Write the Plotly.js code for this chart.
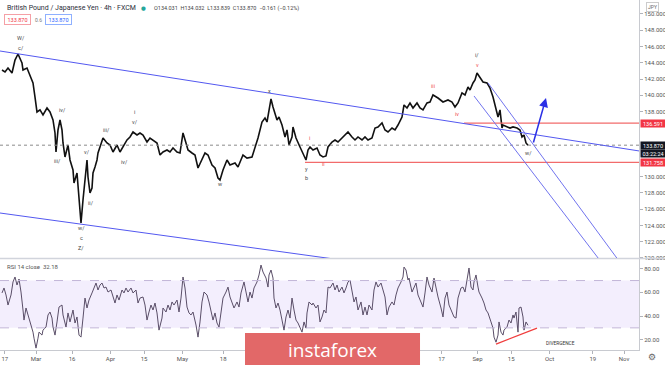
<!DOCTYPE html>
<html><head><meta charset="utf-8">
<script src="https://cdn.plot.ly/plotly-3.0.1.min.js"></script>
<style>html,body{margin:0;padding:0;background:#fff;}#chart{width:665px;height:365px;}</style>
</head><body><div id="chart"></div>
<script>
// ---------- data ----------
const priceDates = ["2020-02-15 20:00","2020-02-17 02:00","2020-02-18 08:00","2020-02-20 00:00","2020-02-21 06:00","2020-02-22 12:00","2020-02-24 04:00","2020-02-24 14:00","2020-02-26 06:00","2020-02-27 12:00","2020-02-28 18:00","2020-02-29 14:00","2020-03-01 10:00","2020-03-02 16:00","2020-03-03 22:00","2020-03-05 14:00","2020-03-06 20:00","2020-03-08 02:00","2020-03-08 22:00","2020-03-09 08:00","2020-03-10 04:00","2020-03-11 00:00","2020-03-11 20:00","2020-03-12 06:00","2020-03-13 02:00","2020-03-14 08:00","2020-03-15 04:00","2020-03-16 10:00","2020-03-16 20:00","2020-03-18 02:00","2020-03-18 12:00","2020-03-19 08:00","2020-03-19 18:00","2020-03-20 14:00","2020-03-21 10:00","2020-03-22 06:00","2020-03-22 16:00","2020-03-23 12:00","2020-03-24 08:00","2020-03-24 18:00","2020-03-25 14:00","2020-03-26 10:00","2020-03-26 20:00","2020-03-27 16:00","2020-03-28 22:00","2020-03-30 14:00","2020-03-31 20:00","2020-04-02 02:00","2020-04-03 18:00","2020-04-05 00:00","2020-04-06 06:00","2020-04-07 22:00","2020-04-09 04:00","2020-04-10 10:00","2020-04-12 02:00","2020-04-13 08:00","2020-04-14 14:00","2020-04-16 06:00","2020-04-17 12:00","2020-04-18 18:00","2020-04-20 10:00","2020-04-21 16:00","2020-04-22 22:00","2020-04-24 14:00","2020-04-25 20:00","2020-04-27 02:00","2020-04-28 18:00","2020-04-30 00:00","2020-05-01 06:00","2020-05-02 12:00","2020-05-03 08:00","2020-05-05 00:00","2020-05-06 06:00","2020-05-07 12:00","2020-05-09 04:00","2020-05-10 10:00","2020-05-11 16:00","2020-05-13 08:00","2020-05-14 14:00","2020-05-15 20:00","2020-05-16 16:00","2020-05-17 22:00","2020-05-19 14:00","2020-05-20 20:00","2020-05-22 22:00","2020-05-24 04:00","2020-05-26 06:00","2020-05-27 22:00","2020-05-30 00:00","2020-05-31 06:00","2020-06-01 12:00","2020-06-03 04:00","2020-06-04 10:00","2020-06-05 06:00","2020-06-06 02:00","2020-06-06 22:00","2020-06-07 18:00","2020-06-09 10:00","2020-06-10 06:00","2020-06-11 12:00","2020-06-12 18:00","2020-06-13 14:00","2020-06-14 10:00","2020-06-15 16:00","2020-06-16 02:00","2020-06-17 08:00","2020-06-19 00:00","2020-06-20 06:00","2020-06-21 12:00","2020-06-22 08:00","2020-06-23 04:00","2020-06-24 10:00","2020-06-26 02:00","2020-06-27 08:00","2020-06-28 14:00","2020-06-29 20:00","2020-06-30 16:00","2020-07-02 08:00","2020-07-03 14:00","2020-07-04 20:00","2020-07-06 12:00","2020-07-07 18:00","2020-07-09 00:00","2020-07-10 16:00","2020-07-11 22:00","2020-07-13 04:00","2020-07-14 20:00","2020-07-16 02:00","2020-07-17 08:00","2020-07-19 00:00","2020-07-20 06:00","2020-07-21 12:00","2020-07-23 04:00","2020-07-24 10:00","2020-07-25 16:00","2020-07-27 08:00","2020-07-28 14:00","2020-07-29 20:00","2020-07-31 12:00","2020-08-01 08:00","2020-08-02 14:00","2020-08-03 20:00","2020-08-05 02:00","2020-08-06 18:00","2020-08-08 00:00","2020-08-09 06:00","2020-08-10 22:00","2020-08-12 04:00","2020-08-13 10:00","2020-08-15 12:00","2020-08-17 14:00","2020-08-19 16:00","2020-08-21 08:00","2020-08-22 14:00","2020-08-23 20:00","2020-08-25 12:00","2020-08-26 18:00","2020-08-28 00:00","2020-08-28 20:00","2020-08-30 02:00","2020-08-30 22:00","2020-08-31 18:00","2020-09-02 00:00","2020-09-03 06:00","2020-09-04 22:00","2020-09-06 04:00","2020-09-07 10:00","2020-09-08 16:00","2020-09-09 12:00","2020-09-10 08:00","2020-09-11 04:00","2020-09-11 14:00","2020-09-13 06:00","2020-09-14 12:00","2020-09-15 18:00","2020-09-17 10:00","2020-09-18 16:00","2020-09-19 12:00","2020-09-20 08:00","2020-09-21 04:00","2020-09-22 00:00"];
const priceClose = [143.11,142.87,143.36,142.75,144.34,145.08,143.97,143.11,143.36,142.50,141.52,139.79,137.95,138.20,137.58,138.44,137.95,136.97,135.37,133.03,135.74,136.97,135.74,134.14,132.42,133.89,132.05,130.82,129.22,130.45,128.73,125.65,124.30,127.13,129.59,132.05,129.96,127.99,128.60,130.45,131.19,132.05,132.91,133.65,134.75,134.14,133.89,133.03,133.89,133.03,133.65,134.51,134.88,135.49,135.12,135.37,135.12,134.26,134.75,134.51,134.14,132.66,133.03,133.28,133.03,133.52,133.03,132.91,135.37,134.14,133.28,132.91,132.66,131.06,132.05,132.91,132.66,131.43,131.06,129.83,129.59,130.82,132.05,131.43,131.68,131.19,132.66,132.29,132.42,133.52,134.75,136.72,137.21,136.72,138.44,139.55,138.56,136.97,137.33,136.35,134.88,135.74,133.89,134.88,136.11,134.75,133.65,132.91,132.05,133.28,133.65,133.28,133.52,132.66,132.42,132.54,133.65,134.26,134.51,134.26,134.75,135.12,135.49,134.88,134.51,134.88,134.51,134.88,134.51,134.75,135.98,136.11,136.60,135.74,135.49,135.98,135.74,136.35,137.33,138.81,138.44,139.06,138.44,139.06,138.44,138.20,139.06,139.18,140.04,139.67,139.18,139.43,139.18,138.56,139.06,140.29,140.04,141.02,140.66,141.52,141.88,142.75,142.13,141.64,141.52,140.90,139.79,138.20,137.33,138.20,135.98,136.35,136.11,135.98,136.11,135.98,135.74,134.88,135.12,134.14,133.87];

const rsiDates = ["2020-02-15 20:00","2020-02-16 16:00","2020-02-17 12:00","2020-02-18 08:00","2020-02-19 14:00","2020-02-20 10:00","2020-02-21 06:00","2020-02-22 02:00","2020-02-22 22:00","2020-02-23 18:00","2020-02-24 14:00","2020-02-25 00:00","2020-02-25 20:00","2020-02-26 16:00","2020-02-27 22:00","2020-02-28 18:00","2020-02-29 04:00","2020-03-01 00:00","2020-03-01 20:00","2020-03-02 06:00","2020-03-03 12:00","2020-03-03 22:00","2020-03-05 04:00","2020-03-06 00:00","2020-03-06 20:00","2020-03-07 16:00","2020-03-08 02:00","2020-03-08 22:00","2020-03-09 18:00","2020-03-10 14:00","2020-03-11 20:00","2020-03-12 06:00","2020-03-13 12:00","2020-03-14 08:00","2020-03-15 04:00","2020-03-16 10:00","2020-03-17 06:00","2020-03-18 02:00","2020-03-18 22:00","2020-03-19 18:00","2020-03-20 14:00","2020-03-21 00:00","2020-03-21 10:00","2020-03-22 06:00","2020-03-23 02:00","2020-03-24 08:00","2020-03-25 04:00","2020-03-26 00:00","2020-03-26 20:00","2020-03-27 16:00","2020-03-28 12:00","2020-03-29 08:00","2020-03-30 04:00","2020-03-31 00:00","2020-04-01 06:00","2020-04-02 02:00","2020-04-02 22:00","2020-04-03 18:00","2020-04-04 14:00","2020-04-05 20:00","2020-04-06 16:00","2020-04-07 12:00","2020-04-08 08:00","2020-04-09 14:00","2020-04-10 10:00","2020-04-11 16:00","2020-04-12 12:00","2020-04-13 08:00","2020-04-14 14:00","2020-04-15 10:00","2020-04-16 06:00","2020-04-17 02:00","2020-04-17 22:00","2020-04-18 18:00","2020-04-19 14:00","2020-04-20 10:00","2020-04-21 06:00","2020-04-22 12:00","2020-04-22 22:00","2020-04-24 04:00","2020-04-25 00:00","2020-04-25 20:00","2020-04-26 16:00","2020-04-27 12:00","2020-04-28 18:00","2020-04-29 14:00","2020-04-30 10:00","2020-05-01 06:00","2020-05-02 02:00","2020-05-02 22:00","2020-05-03 18:00","2020-05-04 14:00","2020-05-05 10:00","2020-05-06 16:00","2020-05-07 12:00","2020-05-08 08:00","2020-05-09 04:00","2020-05-10 00:00","2020-05-11 06:00","2020-05-12 02:00","2020-05-12 22:00","2020-05-13 18:00","2020-05-14 14:00","2020-05-15 10:00","2020-05-16 06:00","2020-05-17 12:00","2020-05-17 22:00","2020-05-19 04:00","2020-05-20 00:00","2020-05-20 20:00","2020-05-21 16:00","2020-05-22 12:00","2020-05-23 18:00","2020-05-24 14:00","2020-05-25 10:00","2020-05-26 06:00","2020-05-26 16:00","2020-05-27 12:00","2020-05-28 08:00","2020-05-29 04:00","2020-05-30 00:00","2020-05-30 20:00","2020-06-01 02:00","2020-06-01 22:00","2020-06-02 18:00","2020-06-03 14:00","2020-06-04 20:00","2020-06-05 16:00","2020-06-06 02:00","2020-06-06 22:00","2020-06-07 18:00","2020-06-08 04:00","2020-06-09 00:00","2020-06-09 20:00","2020-06-10 16:00","2020-06-11 12:00","2020-06-12 08:00","2020-06-13 04:00","2020-06-14 00:00","2020-06-14 20:00","2020-06-15 16:00","2020-06-16 12:00","2020-06-17 08:00","2020-06-18 04:00","2020-06-19 00:00","2020-06-19 20:00","2020-06-20 16:00","2020-06-21 12:00","2020-06-21 22:00","2020-06-22 18:00","2020-06-24 00:00","2020-06-24 10:00","2020-06-25 16:00","2020-06-26 12:00","2020-06-27 08:00","2020-06-28 04:00","2020-06-29 00:00","2020-06-29 20:00","2020-06-30 16:00","2020-07-01 12:00","2020-07-02 18:00","2020-07-03 14:00","2020-07-04 10:00","2020-07-05 06:00","2020-07-06 12:00","2020-07-07 08:00","2020-07-08 04:00","2020-07-09 00:00","2020-07-09 20:00","2020-07-10 16:00","2020-07-11 12:00","2020-07-12 08:00","2020-07-13 04:00","2020-07-14 10:00","2020-07-15 06:00","2020-07-16 02:00","2020-07-16 22:00","2020-07-17 18:00","2020-07-19 00:00","2020-07-19 20:00","2020-07-20 16:00","2020-07-21 12:00","2020-07-22 18:00","2020-07-23 14:00","2020-07-24 10:00","2020-07-25 06:00","2020-07-26 02:00","2020-07-27 08:00","2020-07-28 04:00","2020-07-29 00:00","2020-07-29 20:00","2020-07-31 02:00","2020-07-31 22:00","2020-08-01 08:00","2020-08-02 04:00","2020-08-03 00:00","2020-08-03 10:00","2020-08-04 16:00","2020-08-05 12:00","2020-08-06 08:00","2020-08-07 04:00","2020-08-08 10:00","2020-08-09 06:00","2020-08-10 02:00","2020-08-10 22:00","2020-08-11 18:00","2020-08-13 00:00","2020-08-13 20:00","2020-08-14 16:00","2020-08-15 12:00","2020-08-16 18:00","2020-08-17 14:00","2020-08-18 10:00","2020-08-19 06:00","2020-08-20 02:00","2020-08-21 08:00","2020-08-22 04:00","2020-08-23 00:00","2020-08-23 20:00","2020-08-25 02:00","2020-08-25 22:00","2020-08-26 18:00","2020-08-27 14:00","2020-08-28 10:00","2020-08-29 06:00","2020-08-30 02:00","2020-08-30 12:00","2020-08-31 08:00","2020-09-01 04:00","2020-09-01 14:00","2020-09-02 20:00","2020-09-03 16:00","2020-09-04 12:00","2020-09-05 08:00","2020-09-06 14:00","2020-09-07 10:00","2020-09-07 20:00","2020-09-08 16:00","2020-09-09 12:00","2020-09-09 22:00","2020-09-10 18:00","2020-09-11 14:00","2020-09-12 00:00","2020-09-13 06:00","2020-09-14 02:00","2020-09-14 22:00","2020-09-15 18:00","2020-09-16 04:00","2020-09-17 00:00","2020-09-17 20:00","2020-09-18 06:00","2020-09-19 02:00","2020-09-19 22:00","2020-09-20 08:00","2020-09-21 04:00","2020-09-22 00:00"];
const rsiValues = [59.5,63.7,57.8,49.3,57.8,68.8,73.0,66.2,71.3,60.3,45.1,36.6,46.8,40.9,34.1,26.4,21.3,12.9,21.3,26.4,23.9,28.1,30.7,40.9,43.4,38.3,30.7,23.9,35.0,47.6,49.3,40.9,30.7,42.6,35.0,45.1,34.1,39.2,23.9,22.2,38.3,45.1,55.2,46.8,53.5,59.5,64.5,67.9,62.0,66.2,67.9,63.7,64.5,60.3,62.0,56.1,51.0,57.8,53.5,62.0,59.5,63.7,60.3,63.7,59.5,62.0,51.0,55.2,56.1,49.3,36.6,43.4,49.3,45.1,51.0,42.6,28.1,38.3,46.8,43.4,49.3,45.1,51.9,49.3,53.5,43.4,55.2,73.0,63.7,47.6,42.6,40.9,43.4,32.4,22.2,35.0,51.9,60.3,57.8,51.9,43.4,36.6,42.6,34.1,30.7,46.8,55.2,60.3,64.5,56.1,51.9,46.8,51.9,47.6,59.5,66.2,68.8,60.3,51.9,60.3,55.2,63.7,68.8,74.7,83.1,77.2,72.1,64.5,74.7,78.9,72.1,55.2,46.8,51.0,45.1,36.6,28.1,39.2,45.1,38.3,55.2,45.1,36.6,34.1,30.7,26.4,35.0,29.8,42.6,51.9,49.3,51.0,46.8,49.3,35.0,39.2,45.1,42.6,64.5,63.7,67.9,62.0,66.2,60.3,64.5,59.5,63.7,68.8,70.4,60.3,51.9,56.1,45.1,51.9,40.9,47.6,40.9,49.3,45.1,62.0,68.8,64.5,67.9,62.0,56.1,40.9,47.6,51.9,49.3,57.8,63.7,68.8,73.0,81.4,78.9,70.4,72.1,60.3,63.7,67.9,57.8,51.0,47.6,59.5,73.0,66.2,60.3,72.1,63.7,56.1,46.8,39.2,55.2,60.3,49.3,43.4,39.2,38.3,55.2,63.7,64.5,60.3,70.4,80.6,64.5,62.0,68.8,74.7,64.5,60.3,55.2,51.0,45.1,42.6,35.0,29.8,22.2,17.9,23.9,35.0,26.4,23.9,28.1,30.7,36.6,34.1,40.9,38.3,43.4,26.4,46.8,47.6,39.2,28.1,35.0,32.18];

const xTickVals = ["2020-02-17","2020-03-01","2020-03-16","2020-04-01","2020-04-15","2020-05-01","2020-05-18","2020-08-17","2020-09-01","2020-09-15","2020-10-01","2020-10-19","2020-11-01"];
const xTickText = ["17","Mar","16","Apr","15","May","18","17","Sep","15","Oct","19","Nov"];
// 132, 134 and 136 sit under the price tags in the reference, so they are not shown
const priceTicks = [120,122,124,126,128,130,138,140,142,144,146,148,150];
const rsiTicks = [20,40,60,80];
const rsiUpper = 70, rsiLower = 30;
const resistanceLevel = 136.591;
const supportLevel = 131.758;
const lastClose = 133.870;
const lastRsi = 32.18;
const countdown = "03:22:24";
const symbolTitle = "British Pound / Japanese Yen · 4h · FXCM";
const ohlcText = "O134.031  H134.032  L133.839  C133.870  −0.161 (−0.12%)";

// wave count labels (text, anchor date, anchor price, red?)
const waveText  = ["W/","c/","iv/","iii/","v/","ii/","w/","c","Z/","iii/","iv/","i","v/","w","x","i","y","b","ii","iii","iv","v","i/","w/"];
const waveDate  = ["2020-02-23 18:00","2020-02-23 18:00","2020-03-11 20:00","2020-03-09 18:00","2020-03-22 06:00","2020-03-23 22:00","2020-03-19 18:00","2020-03-19 18:00","2020-03-19 18:00","2020-03-30 04:00","2020-04-06 16:00","2020-04-10 20:00","2020-04-11 06:00","2020-05-16 16:00","2020-06-06 02:00","2020-06-22 18:00","2020-06-21 12:00","2020-06-21 12:00","2020-06-28 14:00","2020-08-13 10:00","2020-08-23 10:00","2020-08-31 18:00","2020-08-31 18:00","2020-09-22 00:00"];
const wavePrice = [147.05,145.82,138.20,131.92,133.03,126.76,123.69,122.46,121.23,135.74,131.80,137.95,136.72,129.10,140.53,134.75,130.94,129.83,131.56,141.15,137.70,143.73,144.96,132.91];
const waveRed   = [false,false,false,false,false,false,false,false,false,false,false,false,false,false,false,true,false,false,true,true,true,true,false,false];

// drawn trend / channel lines (start date, start price, end date, end price)
const lineStartDate = ["2020-02-15 00:00","2020-02-15 00:00","2020-08-30 12:00","2020-09-05 08:00"];
const lineStartPrice = [145.45,125.53,139.92,141.52];
const lineEndDate = ["2020-11-07 06:00","2020-11-07 06:00","2020-10-28 06:00","2020-11-04 18:00"];
const lineEndPrice = [133.16,114.71,117.29,117.29];

const resistanceStart = "2020-08-26 08:00";
const supportStart = "2020-06-21 02:00";
const arrowFrom = {d:"2020-09-24 02:00", p:134.01};
const arrowTo = {d:"2020-09-29 12:00", p:139.67};
const divFrom = {d:"2020-09-08 16:00", v:16.35};
const divTo = {d:"2020-09-25 18:00", v:29.8};
const divLabel = {d:"2020-10-05 08:00", v:17.2};

// ---------- figure ----------
const FONT = 'Roboto, "Liberation Sans", Arial, sans-serif';
const traces = [
  {type:'scatter', mode:'lines', x:priceDates, y:priceClose, xaxis:'x', yaxis:'y',
   line:{color:'#111', width:1.6}, hoverinfo:'skip'},
  {type:'scatter', mode:'lines', x:rsiDates, y:rsiValues, xaxis:'x', yaxis:'y2',
   line:{color:'#5a4e68', width:1}, hoverinfo:'skip'}
];

const shapes = [];
shapes.push({type:'rect', xref:'paper', x0:0, x1:1, yref:'y2', y0:rsiLower, y1:rsiUpper,
  fillcolor:'rgba(150,100,240,0.11)', line:{width:0}, layer:'below'});
[rsiUpper, rsiLower].forEach(v => shapes.push({type:'line', xref:'paper', x0:0, x1:1, yref:'y2', y0:v, y1:v,
  line:{color:'#c3b6d8', width:1, dash:'dash'}}));
shapes.push({type:'line', xref:'paper', yref:'paper', x0:0, x1:1.0407, y0:0.2616, y1:0.2616,
  line:{color:'#d1d4dc', width:1.5}});
shapes.push({type:'line', xref:'paper', x0:0, x1:1, yref:'y', y0:lastClose, y1:lastClose,
  line:{color:'#8a8a8a', width:1, dash:'dot'}});
shapes.push({type:'line', xref:'x', yref:'y', x0:resistanceStart, x1:'2020-11-08', y0:resistanceLevel, y1:resistanceLevel,
  line:{color:'#f26b6b', width:1.2}});
shapes.push({type:'line', xref:'x', yref:'y', x0:supportStart, x1:'2020-11-08', y0:supportLevel, y1:supportLevel,
  line:{color:'#f26b6b', width:1.2}});
for (let i = 0; i < lineStartDate.length; i++) {
  shapes.push({type:'line', xref:'x', yref:'y', x0:lineStartDate[i], y0:lineStartPrice[i], x1:lineEndDate[i], y1:lineEndPrice[i],
    line:{color: i < 2 ? '#5358f0' : '#7174ee', width:1}});
}
shapes.push({type:'line', xref:'x', yref:'y2', x0:divFrom.d, y0:divFrom.v, x1:divTo.d, y1:divTo.v,
  line:{color:'#f03c3c', width:1.3}});
shapes.push({type:'rect', xref:'paper', yref:'paper', x0:0.3834, x1:0.6573, y0:-0.0429, y1:0.0486,
  fillcolor:'#e26868', line:{width:0}, layer:'above'});

const annotations = [];
annotations.push({xref:'paper', yref:'paper', x:0.0078, y:0.977, xanchor:'left', yanchor:'middle', showarrow:false,
  text:symbolTitle, font:{family:FONT, size:7, color:'#2a2e39'}});
annotations.push({xref:'paper', yref:'paper', x:0.2245, y:0.977, xanchor:'center', yanchor:'middle', showarrow:false,
  text:'●', font:{family:'DejaVu Sans', size:5.5, color:'#26a69a'}});
annotations.push({xref:'paper', yref:'paper', x:0.2379, y:0.977, xanchor:'left', yanchor:'middle', showarrow:false,
  text:ohlcText, font:{family:FONT, size:5.5, color:'#444'}});
annotations.push({xref:'paper', yref:'paper', x:0.0274, y:0.944, xanchor:'center', yanchor:'middle', showarrow:false,
  text:lastClose.toFixed(3), font:{family:FONT, size:5.5, color:'#f23645'}, bordercolor:'#f5a0a6', borderwidth:1, borderpad:1.5, width:22});
annotations.push({xref:'paper', yref:'paper', x:0.0595, y:0.944, xanchor:'center', yanchor:'middle', showarrow:false,
  text:'0.6', font:{family:FONT, size:5, color:'#777'}});
annotations.push({xref:'paper', yref:'paper', x:0.0908, y:0.944, xanchor:'center', yanchor:'middle', showarrow:false,
  text:lastClose.toFixed(3), font:{family:FONT, size:5.5, color:'#2962ff'}, bordercolor:'#8fb0ff', borderwidth:1, borderpad:1.5, width:22});
annotations.push({xref:'paper', yref:'paper', x:1.0219, y:0.98, xanchor:'center', yanchor:'middle', showarrow:false,
  text:'JPY', font:{family:FONT, size:5, color:'#666'}, bordercolor:'#ccc', borderwidth:1, borderpad:1});
function axisLabel(y, yshift, text, bg) {
  annotations.push({xref:'paper', yref:'y', x:1, y:y, xanchor:'left', yanchor:'middle', xshift:1, yshift:yshift, showarrow:false,
    text:text, font:{family:FONT, size:5.5, color:'#fff'}, bgcolor:bg, borderpad:0.5, width:23});
}
axisLabel(resistanceLevel, 0, resistanceLevel.toFixed(3), '#f23645');
axisLabel(lastClose, 0, lastClose.toFixed(3), '#131722');
axisLabel(lastClose, -8.5, countdown, '#131722');
axisLabel(supportLevel, 0, supportLevel.toFixed(3), '#f23645');
for (let i = 0; i < waveText.length; i++) {
  annotations.push({xref:'x', yref:'y', x:waveDate[i], y:wavePrice[i], showarrow:false, xanchor:'center', yanchor:'middle',
    text:waveText[i], font:{family:FONT, size:5.5, color: waveRed[i] ? '#ef4d4d' : '#4a4a4a'}});
}
annotations.push({xref:'x', yref:'y', axref:'x', ayref:'y', x:arrowTo.d, y:arrowTo.p, ax:arrowFrom.d, ay:arrowFrom.p,
  text:'', showarrow:true, arrowhead:2, arrowsize:1.2, arrowwidth:1.5, arrowcolor:'#2b30e6'});
annotations.push({xref:'paper', yref:'paper', x:0.0078, y:0.24, xanchor:'left', yanchor:'middle', showarrow:false,
  text:'RSI 14 close&nbsp;&nbsp;' + lastRsi.toFixed(2), font:{family:FONT, size:6, color:'#555'}});
annotations.push({xref:'x', yref:'y2', x:divLabel.d, y:divLabel.v, xanchor:'center', yanchor:'middle', showarrow:false,
  text:'DIVERGENCE', font:{family:FONT, size:4.8, color:'#333'}});
annotations.push({xref:'paper', yref:'paper', x:0.5211, y:0.0, xanchor:'center', yanchor:'middle', showarrow:false,
  text:'instaforex', font:{family:'"Open Sans", sans-serif', size:19, color:'#ffffff'}});
annotations.push({xref:'paper', yref:'paper', x:1.0203, y:-0.02, xanchor:'center', yanchor:'middle', showarrow:false,
  text:'⚙', font:{family:'DejaVu Sans', size:9, color:'#666'}});

const axisCommon = {showgrid:false, zeroline:false, showline:true, linecolor:'#c8cad0', linewidth:1,
  ticks:'outside', ticklen:3, tickcolor:'#b0b3ba', tickfont:{family:FONT, size:6, color:'#555'}};

const layout = {
  width:665, height:365, margin:{l:0, r:26, t:0, b:15, pad:0},
  paper_bgcolor:'#ffffff', plot_bgcolor:'#ffffff', showlegend:false,
  font:{family:FONT, size:6, color:'#555'},
  xaxis:Object.assign({}, axisCommon, {type:'date', anchor:'y2', range:['2020-02-15 00:00','2020-11-07 06:00'],
    tickmode:'array', tickvals:xTickVals, ticktext:xTickText}),
  yaxis:Object.assign({}, axisCommon, {domain:[0.2629,1], range:[120,151.72], side:'right', anchor:'x',
    tickmode:'array', tickvals:priceTicks, tickformat:'.3f'}),
  yaxis2:Object.assign({}, axisCommon, {domain:[0,0.26], range:[11.3,88.2], side:'right', anchor:'x',
    tickmode:'array', tickvals:rsiTicks, tickformat:'.2f'}),
  shapes:shapes, annotations:annotations
};

Plotly.newPlot('chart', traces, layout, {staticPlot:true, displayModeBar:false});
</script>
</body></html>
